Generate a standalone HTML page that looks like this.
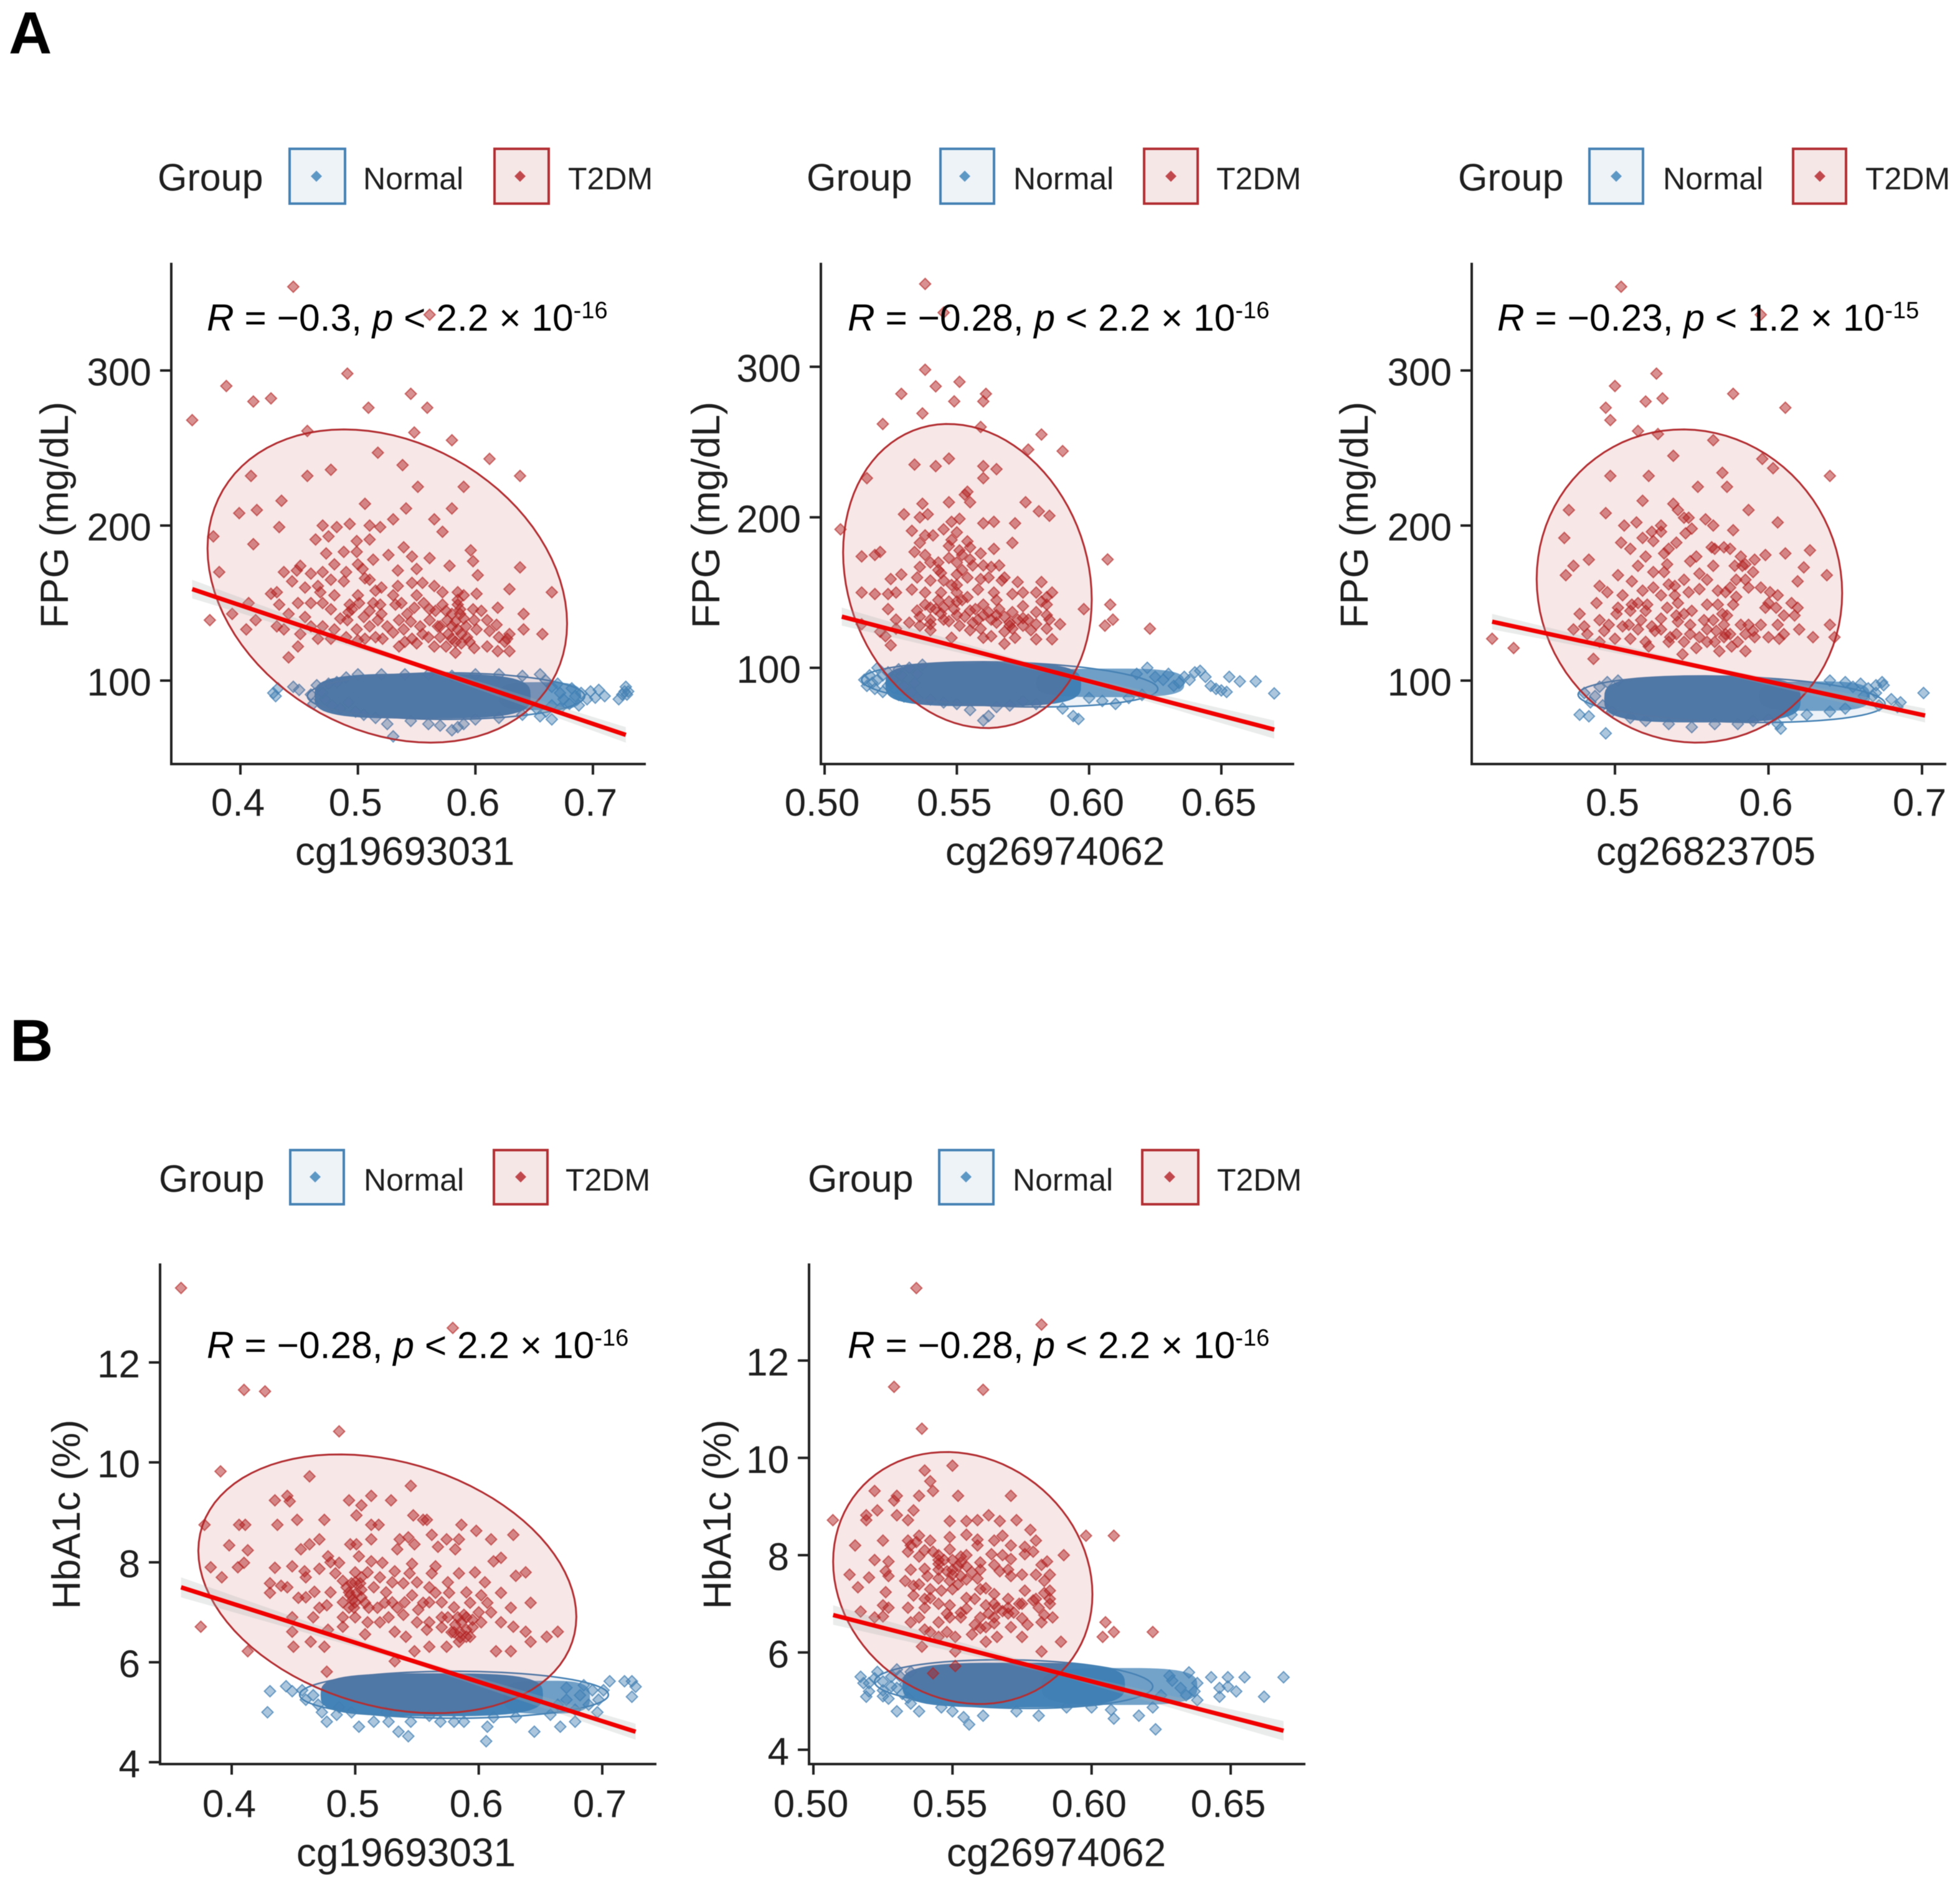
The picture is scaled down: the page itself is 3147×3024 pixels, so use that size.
<!DOCTYPE html>
<html>
<head>
<meta charset="utf-8">
<title>Methylation correlations</title>
<style>
html,body{margin:0;padding:0;background:#fff;}
svg{display:block;filter:blur(.6px);}
text{font-family:"Liberation Sans",sans-serif;fill:#1f1f1f;}
.tick{font-size:62px;}
.title{font-size:64px;}
.ytitle{font-size:63px;}
.grp{font-size:61px;}
.leg{font-size:50px;}
.note{font-size:60.5px;fill:#000;}
.sup{font-size:38px;fill:#000;}
.letter{font-size:96px;font-weight:bold;fill:#000;}
.nbox{fill:#eef3f8;stroke:#4682b4;stroke-width:4;}
.tbox{fill:#f6e7e7;stroke:#b22f33;stroke-width:4;}
.nd{fill:#5d97c4;}
.td{fill:#c0494d;}
</style>
</head>
<body>
<svg xmlns="http://www.w3.org/2000/svg" width="3147" height="3024" viewBox="0 0 3147 3024">
<rect width="3147" height="3024" fill="#fff"/>
<text class="letter" x="14" y="86">A</text>
<text class="letter" x="16" y="1704">B</text>

<!-- A1 -->
<g>
<text class="grp" x="253" y="306">Group</text>
<rect class="nbox" x="465" y="239" width="89" height="88"/>
<path class="nd" d="M508 274l9 9-9 9-9-9z"/>
<text class="leg" x="583" y="304">Normal</text>
<rect class="tbox" x="794" y="239" width="87" height="88"/>
<path class="td" d="M835 274l9 9-9 9-9-9z"/>
<text class="leg" x="912" y="304">T2DM</text>
</g>
<g id="a1-marks"></g>
<g id="a1-axes"></g>
<text class="ytitle" transform="translate(109,827) rotate(-90)" text-anchor="middle">FPG (mg/dL)</text>
<text class="title" x="650" y="1389" text-anchor="middle">cg19693031</text>
<text class="note" x="332" y="531"><tspan font-style="italic">R</tspan> = −0.3, <tspan font-style="italic">p</tspan> &lt; 2.2 × 10<tspan class="sup" dy="-20">-16</tspan></text>

<!-- A2 -->
<g>
<text class="grp" x="1295" y="306">Group</text>
<rect class="nbox" x="1510" y="239" width="86" height="88"/>
<path class="nd" d="M1549 274l9 9-9 9-9-9z"/>
<text class="leg" x="1627" y="304">Normal</text>
<rect class="tbox" x="1837" y="239" width="86" height="88"/>
<path class="td" d="M1880 274l9 9-9 9-9-9z"/>
<text class="leg" x="1953" y="304">T2DM</text>
</g>
<g id="a2-marks"></g>
<g id="a2-axes"></g>
<text class="ytitle" transform="translate(1155,827) rotate(-90)" text-anchor="middle">FPG (mg/dL)</text>
<text class="title" x="1694" y="1389" text-anchor="middle">cg26974062</text>
<text class="note" x="1361" y="531"><tspan font-style="italic">R</tspan> = −0.28, <tspan font-style="italic">p</tspan> &lt; 2.2 × 10<tspan class="sup" dy="-20">-16</tspan></text>

<!-- A3 -->
<g>
<text class="grp" x="2341" y="306">Group</text>
<rect class="nbox" x="2552" y="239" width="86" height="88"/>
<path class="nd" d="M2595 274l9 9-9 9-9-9z"/>
<text class="leg" x="2670" y="304">Normal</text>
<rect class="tbox" x="2879" y="239" width="85" height="88"/>
<path class="td" d="M2922 274l9 9-9 9-9-9z"/>
<text class="leg" x="2995" y="304">T2DM</text>
</g>
<g id="a3-marks"></g>
<g id="a3-axes"></g>
<text class="ytitle" transform="translate(2196,827) rotate(-90)" text-anchor="middle">FPG (mg/dL)</text>
<text class="title" x="2739" y="1389" text-anchor="middle">cg26823705</text>
<text class="note" x="2404" y="531"><tspan font-style="italic">R</tspan> = −0.23, <tspan font-style="italic">p</tspan> &lt; 1.2 × 10<tspan class="sup" dy="-20">-15</tspan></text>

<!-- B1 -->
<g>
<text class="grp" x="255" y="1914">Group</text>
<rect class="nbox" x="466" y="1847" width="86" height="87"/>
<path class="nd" d="M506 1881l9 9-9 9-9-9z"/>
<text class="leg" x="584" y="1912">Normal</text>
<rect class="tbox" x="793" y="1847" width="86" height="87"/>
<path class="td" d="M836 1881l9 9-9 9-9-9z"/>
<text class="leg" x="908" y="1912">T2DM</text>
</g>
<g id="b1-marks"></g>
<g id="b1-axes"></g>
<text class="ytitle" transform="translate(128,2432) rotate(-90)" text-anchor="middle">HbA1c (%)</text>
<text class="title" x="652" y="2997" text-anchor="middle">cg19693031</text>
<text class="note" x="332" y="2181"><tspan font-style="italic">R</tspan> = −0.28, <tspan font-style="italic">p</tspan> &lt; 2.2 × 10<tspan class="sup" dy="-20">-16</tspan></text>

<!-- B2 -->
<g>
<text class="grp" x="1297" y="1914">Group</text>
<rect class="nbox" x="1508" y="1847" width="87" height="87"/>
<path class="nd" d="M1551 1881l9 9-9 9-9-9z"/>
<text class="leg" x="1626" y="1912">Normal</text>
<rect class="tbox" x="1834" y="1847" width="90" height="87"/>
<path class="td" d="M1878 1881l9 9-9 9-9-9z"/>
<text class="leg" x="1954" y="1912">T2DM</text>
</g>
<g id="b2-marks"></g>
<g id="b2-axes"></g>
<text class="ytitle" transform="translate(1173,2432) rotate(-90)" text-anchor="middle">HbA1c (%)</text>
<text class="title" x="1696" y="2997" text-anchor="middle">cg26974062</text>
<text class="note" x="1361" y="2181"><tspan font-style="italic">R</tspan> = −0.28, <tspan font-style="italic">p</tspan> &lt; 2.2 × 10<tspan class="sup" dy="-20">-16</tspan></text>
</svg>

<script>
// ---------- tick data ----------
const fpgTicks=[100,200,300];
const hba1cTicks=[4,6,8,10,12];
const xTicksCg19=[0.4,0.5,0.6,0.7];
const xLabelsCg19=['0.4','0.5','0.6','0.7'];
const xTicksCg26974=[0.5,0.55,0.6,0.65];
const xLabelsCg26974=['0.50','0.55','0.60','0.65'];
const xTicksCg26823=[0.5,0.6,0.7];
const xLabelsCg26823=['0.5','0.6','0.7'];

// ---------- A1: cg19693031 vs FPG ----------
const a1T2dm=[[.445,354],[.561,336],[.491,298],[.388,290],[.411,280],[.426,282],[.545,285],[.359,268],[.509,276],[.559,276],[.457,261],[.548,260],[.58,255],[.517,247],[.612,243],[.538,239],[.409,232],[.457,232],[.477,236],[.638,232],[.551,225],[.59,225],[.435,216],[.506,214],[.399,208],[.414,210],[.541,211],[.58,211],[.433,199],[.411,188],[.377,193],[.382,170],[.47,200],[.464,191],[.475,193],[.482,199],[.493,201],[.51,200],[.519,199],[.53,204],[.565,204],[.572,196],[.488,183],[.499,190],[.51,191],[.499,183],[.526,181],[.539,186],[.546,180],[.561,179],[.596,184],[.598,177],[.602,168],[.578,174],[.638,173],[.473,182],[.48,175],[.513,178],[.534,171],[.437,170],[.451,174],[.448,171],[.444,164],[.46,169],[.504,172],[.506,166],[.466,161],[.477,165],[.488,164],[.534,161],[.546,163],[.555,163],[.565,161],[.572,157],[.585,157],[.601,156],[.629,159],[.665,157],[.431,157],[.426,156],[.433,149],[.449,150],[.46,150],[.468,157],[.477,146],[.493,149],[.501,150],[.513,150],[.519,149],[.532,149],[.548,147],[.561,146],[.572,149],[.585,149],[.587,143],[.598,146],[.619,147],[.641,143],[.641,133],[.657,130],[.629,130],[.627,127],[.629,119],[.619,119],[.61,122],[.599,121],[.583,118],[.588,124],[.61,139],[.618,136],[.599,139],[.601,133],[.585,133],[.576,139],[.561,139],[.568,135],[.577,130],[.555,130],[.546,127],[.539,133],[.535,139],[.521,127],[.517,139],[.506,127],[.499,133],[.491,139],[.495,146],[.477,127],[.466,127],[.451,130],[.449,122],[.441,115],[.455,141],[.441,143],[.431,135],[.437,133],[.413,139],[.405,133],[.393,143],[.374,139],[.407,150],[.585,152],[.587,146],[.59,140],[.583,138],[.588,130],[.58,127],[.593,128],[.492,144],[.505,141],[.51,135],[.5,126],[.53,131],[.545,138],[.553,135],[.54,125],[.56,128],[.57,128],[.575,122],[.55,124],[.47,150],[.48,155],[.485,140],[.5,155],[.515,158],[.52,143],[.525,135],[.53,155],[.537,150],[.542,143],[.55,155],[.556,150],[.566,145],[.57,135],[.575,145],[.58,143],[.59,155],[.592,135],[.595,125],[.605,145],[.612,132],[.62,128],[.625,125],[.47,135],[.48,133],[.46,135],[.49,128],[.51,145],[.515,128],[.535,122],[.565,122],[.58,135],[.583,125],[.52,160],[.49,170],[.51,165],[.5,175],[.47,170],[.455,160],[.55,172]];
const a1Normal=[[.428,92],[.432,95],[.43,90],[.445,96],[.45,94],[.46,91],[.462,85],[.465,97],[.47,92],[.472,88],[.475,98],[.478,84],[.482,99],[.485,82],[.49,102],[.492,86],[.498,80],[.505,78],[.515,76],[.53,64],[.525,72],[.545,74],[.56,72],[.57,71],[.58,68],[.585,70],[.59,72],[.6,75],[.62,76],[.64,78],[.655,77],[.665,75],[.66,100],[.665,96],[.67,98],[.672,92],[.675,88],[.68,85],[.682,95],[.685,90],[.688,84],[.69,92],[.695,88],[.698,93],[.702,89],[.705,94],[.71,90],[.722,88],[.725,91],[.727,93],[.728,96],[.729,91],[.73,93],[.665,84],[.672,82],[.66,80],[.652,82],[.5,104],[.52,104],[.54,104],[.56,104],[.58,103],[.6,104],[.62,104],[.64,103],[.655,104]];
const a1NormalCores=[[.555,90,.092,14.5],[.655,90,.035,9]];
const a1NormalEllipse=[.575,90,.118,15,0];
const a1T2dmEllipse=[.525,161,.153,101,-.24];
const a1FitX=[.359,.728];
const a1FitY=[159,65];
const a1FitSe=[6,1.5,5];

// ---------- A2: cg26974062 vs FPG ----------
const a2T2dm=[[.538,355],[.545,336],[.538,298],[.542,287],[.551,290],[.529,282],[.561,282],[.549,277],[.56,277],[.537,269],[.522,262],[.559,260],[.582,255],[.577,245],[.59,244],[.534,235],[.547,239],[.542,234],[.56,234],[.565,232],[.56,226],[.516,226],[.554,217],[.553,215],[.555,210],[.547,210],[.576,210],[.537,209],[.539,202],[.536,200],[.53,202],[.581,204],[.585,201],[.551,199],[.548,197],[.56,196],[.564,197],[.572,196],[.533,191],[.538,188],[.541,188],[.545,192],[.506,192],[.536,183],[.571,183],[.554,184],[.547,181],[.551,178],[.555,180],[.559,176],[.564,179],[.607,172],[.514,174],[.519,175],[.521,177],[.534,177],[.543,170],[.547,173],[.55,170],[.563,167],[.566,168],[.536,167],[.529,162],[.525,159],[.535,160],[.54,158],[.544,163],[.55,162],[.554,160],[.559,159],[.567,158],[.573,157],[.582,157],[.533,152],[.514,150],[.519,149],[.524,149],[.527,150],[.538,150],[.544,150],[.571,149],[.584,147],[.608,142],[.598,139],[.582,144],[.584,142],[.524,139],[.609,132],[.606,128],[.623,126],[.538,142],[.542,139],[.547,144],[.554,147],[.557,139],[.562,137],[.566,139],[.571,137],[.575,141],[.536,134],[.54,132],[.544,136],[.549,139],[.553,134],[.558,132],[.563,132],[.568,134],[.573,132],[.577,132],[.58,129],[.584,126],[.589,129],[.54,129],[.547,131],[.551,128],[.559,126],[.563,121],[.568,124],[.571,126],[.58,119],[.586,119],[.568,116],[.527,132],[.527,126],[.525,115],[.523,121],[.521,124],[.514,129],[.545,140],[.55,135],[.556,130],[.56,135],[.565,130],[.57,130],[.575,128],[.552,145],[.548,155],[.552,165],[.543,145],[.54,140],[.545,132],[.55,144],[.555,138],[.56,142],[.565,135],[.57,128],[.575,133],[.58,137],[.585,132],[.54,125],[.548,120],[.555,125],[.56,120],[.572,120],[.578,125],[.536,128],[.532,130],[.55,150],[.545,158],[.55,155],[.558,152],[.562,160],[.556,168],[.552,175],[.548,185],[.55,190],[.555,172],[.56,168],[.564,150],[.568,160],[.575,150],[.58,150],[.586,150],[.584,135],[.535,138],[.543,165],[.54,170],[.538,175],[.565,145]];
const a2Normal=[[.515,92],[.516,88],[.518,90],[.517,95],[.519,86],[.52,100],[.522,84],[.524,97],[.525,90],[.527,85],[.529,95],[.53,81],[.532,100],[.535,80],[.54,79],[.545,77],[.55,76],[.555,72],[.56,65],[.562,68],[.565,74],[.57,75],[.575,78],[.58,76],[.59,73],[.594,68],[.596,66],[.6,80],[.605,78],[.61,76],[.615,80],[.62,82],[.618,96],[.622,100],[.625,94],[.628,92],[.63,96],[.632,88],[.634,90],[.636,94],[.638,92],[.64,97],[.642,98],[.644,94],[.646,88],[.648,86],[.65,85],[.652,84],[.653,94],[.657,91],[.663,91],[.67,83],[.52,92],[.522,95],[.524,88],[.526,92],[.528,99],[.53,88],[.533,84],[.535,96],[.537,102],[.528,82],[.534,90]];
const a2NormalCores=[[.56,89,.037,14.5],[.608,90,.028,9.5]];
const a2NormalEllipse=[.57,89,.056,15,-.2];
const a2T2dmEllipse=[.554,161,.047,101,-.155];
const a2FitX=[.5065,.67];
const a2FitY=[134,59];
const a2FitSe=[6,1.5,6];

// ---------- A3: cg26823705 vs FPG ----------
const a3T2dm=[[.504,354],[.595,336],[.527,298],[.5,290],[.577,285],[.531,282],[.52,280],[.494,276],[.611,276],[.497,268],[.515,261],[.528,259],[.564,255],[.538,245],[.596,243],[.603,237],[.57,234],[.497,232],[.522,232],[.64,232],[.554,225],[.573,225],[.518,216],[.538,214],[.541,210],[.47,210],[.494,208],[.548,205],[.559,204],[.564,200],[.506,200],[.514,202],[.606,202],[.587,210],[.577,197],[.467,192],[.53,196],[.524,196],[.518,192],[.546,195],[.504,189],[.525,190],[.54,189],[.627,184],[.611,182],[.598,181],[.591,178],[.582,180],[.571,186],[.563,186],[.553,180],[.549,177],[.532,182],[.534,175],[.483,178],[.473,174],[.468,168],[.623,173],[.578,174],[.583,174],[.564,174],[.515,174],[.525,170],[.532,170],[.638,168],[.502,168],[.555,169],[.59,170],[.579,165],[.511,164],[.539,161],[.619,164],[.49,161],[.555,159],[.587,160],[.495,157],[.518,158],[.53,155],[.539,155],[.548,157],[.567,158],[.572,157],[.579,154],[.601,157],[.606,155],[.488,150],[.502,147],[.511,149],[.521,149],[.534,147],[.541,150],[.56,149],[.567,149],[.577,149],[.598,147],[.619,147],[.477,143],[.49,139],[.501,143],[.509,136],[.517,139],[.524,135],[.53,133],[.541,138],[.549,136],[.558,139],[.564,139],[.571,136],[.582,136],[.587,136],[.595,136],[.606,136],[.61,142],[.617,142],[.64,136],[.473,133],[.482,130],[.493,132],[.51,127],[.522,122],[.544,117],[.553,121],[.568,119],[.576,122],[.585,119],[.571,128],[.549,130],[.526,132],[.585,130],[.591,128],[.607,127],[.62,133],[.629,128],[.643,128],[.486,114],[.434,121],[.42,127],[.566,132],[.572,130],[.56,125],[.545,125],[.536,128],[.515,133],[.505,135],[.496,136],[.54,142],[.573,142],[.52,145],[.51,145],[.515,150],[.52,125],[.53,140],[.535,125],[.54,130],[.545,143],[.55,145],[.555,128],[.56,133],[.565,125],[.57,143],[.575,130],[.58,125],[.59,132],[.6,128],[.61,130],[.5,127],[.49,125],[.48,135],[.505,155],[.525,160],[.535,162],[.545,165],[.56,165],[.575,160],[.585,165],[.595,160],[.605,147],[.615,150],[.565,185],[.575,185],[.585,175],[.535,185],[.52,180],[.51,185],[.55,198],[.53,200],[.545,205],[.6,150]];
const a3Normal=[[.477,78],[.483,77],[.494,66],[.48,92],[.484,86],[.487,90],[.49,96],[.492,84],[.495,99],[.498,80],[.502,100],[.51,76],[.52,74],[.535,72],[.55,70],[.565,72],[.58,72],[.59,74],[.608,69],[.606,72],[.6,75],[.615,78],[.625,78],[.64,80],[.65,82],[.64,100],[.65,99],[.655,96],[.66,98],[.662,90],[.665,95],[.668,90],[.67,92],[.674,99],[.675,97],[.67,97],[.686,86],[.684,83],[.701,92],[.68,88],[.672,84]];
const a3NormalCores=[[.557,88,.064,15],[.63,90,.036,9.5]];
const a3NormalEllipse=[.576,88,.1,15,-.2];
const a3T2dmEllipse=[.5485,161,.0995,101,-.045];
const a3FitX=[.42,.702];
const a3FitY=[138,77.5];
const a3FitSe=[5,1.5,4.5];

// ---------- B1: cg19693031 vs HbA1c ----------
const b1T2dm=[[.359,13.49],[.579,12.69],[.41,11.45],[.427,11.42],[.487,10.62],[.391,9.82],[.463,9.72],[.545,9.53],[.435,9.24],[.445,9.33],[.447,9.22],[.495,9.24],[.505,9.14],[.513,9.33],[.529,9.24],[.501,8.94],[.547,8.94],[.555,8.85],[.558,8.85],[.586,8.75],[.598,8.63],[.628,8.55],[.453,8.85],[.475,8.85],[.378,8.75],[.406,8.75],[.411,8.75],[.437,8.75],[.513,8.75],[.519,8.75],[.398,8.34],[.413,8.24],[.456,8.26],[.463,8.36],[.471,8.46],[.496,8.36],[.501,8.36],[.513,8.46],[.536,8.46],[.543,8.5],[.548,8.36],[.562,8.55],[.574,8.46],[.584,8.46],[.567,8.31],[.581,8.26],[.61,8.46],[.383,7.9],[.405,7.9],[.41,7.99],[.392,7.7],[.435,7.89],[.449,7.92],[.459,7.82],[.471,7.87],[.478,8.12],[.487,7.99],[.503,8.12],[.513,8.02],[.522,7.99],[.534,8.26],[.532,7.82],[.546,7.97],[.544,7.78],[.539,7.58],[.562,7.78],[.565,7.92],[.584,7.78],[.597,7.8],[.612,8.02],[.618,8.09],[.63,7.73],[.638,7.8],[.431,7.58],[.44,7.53],[.431,7.39],[.454,7.29],[.467,7.41],[.484,7.78],[.49,7.63],[.497,7.58],[.504,7.58],[.496,7.34],[.501,7.39],[.508,7.19],[.518,7.09],[.495,7.09],[.499,7.09],[.511,7.09],[.546,7.34],[.555,7.19],[.551,7.05],[.565,7.39],[.576,7.39],[.57,6.9],[.593,7.19],[.602,7.34],[.607,7.19],[.618,7.39],[.626,7.09],[.642,7.19],[.477,7.14],[.471,7.09],[.466,6.9],[.524,7.19],[.527,6.9],[.534,7.09],[.539,6.95],[.583,6.9],[.586,6.8],[.581,6.75],[.59,6.65],[.593,6.51],[.59,6.51],[.584,6.41],[.602,6.8],[.618,6.8],[.628,6.71],[.638,6.61],[.642,6.41],[.655,6.51],[.664,6.61],[.449,6.9],[.449,6.61],[.45,6.31],[.464,6.41],[.475,6.31],[.478,6.65],[.49,6.71],[.508,6.56],[.532,6.61],[.541,6.51],[.558,6.65],[.548,6.22],[.56,6.31],[.574,6.31],[.532,6.02],[.477,5.81],[.413,6.22],[.375,6.71],[.614,6.22],[.626,6.22],[.493,7.5],[.5,7.6],[.505,7.45],[.498,7.25],[.588,6.95],[.585,6.6],[.595,6.85],[.578,6.6],[.48,7.4],[.49,7.2],[.505,7.3],[.515,7.5],[.525,7.4],[.53,7.2],[.54,7.2],[.56,7.2],[.57,7.2],[.58,7.1],[.59,6.9],[.6,7],[.61,7],[.585,6.5],[.595,6.7],[.58,6.6],[.57,6.7],[.55,6.8],[.56,6.8],[.52,6.8],[.51,6.8],[.5,6.9],[.46,7.3],[.445,7.5],[.46,7.7],[.48,8],[.51,7.8],[.52,7.7],[.53,7.6],[.55,7.6],[.56,7.5],[.575,7.6],[.59,7.4],[.605,7.6],[.5,7.8],[.505,7.7],[.495,7.4],[.5,7.2],[.49,6.9],[.575,6.9]];
const b1Normal=[[.429,5],[.431,5.42],[.444,5.52],[.449,5.42],[.457,5.44],[.46,5.25],[.466,5.34],[.47,5.15],[.473,5],[.477,4.81],[.485,4.95],[.487,5.1],[.503,4.71],[.515,4.81],[.527,4.81],[.535,4.61],[.543,4.52],[.545,4.81],[.569,4.81],[.58,4.81],[.588,4.81],[.607,4.71],[.606,4.42],[.645,4.61],[.666,4.71],[.678,4.81],[.658,4.95],[.63,4.9],[.612,4.9],[.56,4.93],[.525,5],[.497,5],[.706,5.62],[.718,5.62],[.724,5.62],[.727,5.51],[.724,5.31],[.696,5],[.685,5.54],[.692,5.44],[.697,5.25],[.689,5.15],[.678,5.05],[.682,5.34],[.671,5.49],[.664,5.15],[.671,5.25],[.701,5.44]];
const b1NormalCores=[[.562,5.35,.09,.43],[.655,5.3,.035,.33]];
const b1NormalEllipse=[.58,5.35,.125,.47,0];
const b1T2dmEllipse=[.526,7.57,.153,2.59,-.255];
const b1FitX=[.359,.727];
const b1FitY=[7.5,4.61];
const b1FitSe=[.2,.05,.16];

// ---------- B2: cg26974062 vs HbA1c ----------
const b2T2dm=[[.537,13.49],[.582,12.74],[.529,11.46],[.561,11.4],[.539,10.6],[.55,9.84],[.54,9.74],[.542,9.52],[.543,9.32],[.522,9.32],[.53,9.22],[.529,9.12],[.538,9.22],[.552,9.22],[.571,9.22],[.523,8.92],[.519,8.82],[.519,8.72],[.53,8.82],[.536,8.92],[.534,8.72],[.507,8.72],[.549,8.7],[.563,8.82],[.559,8.72],[.567,8.7],[.573,8.72],[.578,8.52],[.598,8.4],[.608,8.4],[.568,8.4],[.525,8.3],[.515,8.2],[.534,8.3],[.537,8.27],[.542,8.3],[.549,8.37],[.555,8.42],[.559,8.32],[.571,8.2],[.576,8.17],[.559,8.2],[.59,8],[.522,7.9],[.527,7.87],[.526,7.67],[.527,7.57],[.513,7.6],[.52,7.54],[.516,7.34],[.534,8.07],[.538,7.97],[.543,8.07],[.549,8.12],[.553,7.97],[.564,8.02],[.568,8],[.571,7.92],[.576,8.02],[.579,8.07],[.582,7.8],[.584,7.87],[.54,7.72],[.545,7.82],[.548,7.67],[.552,7.77],[.555,7.77],[.553,7.57],[.541,7.57],[.545,7.52],[.549,7.47],[.559,7.52],[.562,7.32],[.567,7.67],[.571,7.57],[.576,7.27],[.583,7.47],[.585,7.27],[.583,7.22],[.533,7.47],[.536,7.37],[.536,7.17],[.542,7.12],[.546,7.27],[.555,7.12],[.549,6.97],[.534,6.92],[.54,6.92],[.526,7.24],[.525,6.97],[.527,6.92],[.562,6.97],[.566,6.92],[.57,6.92],[.572,6.82],[.579,7.07],[.581,6.92],[.583,6.77],[.586,6.72],[.56,6.72],[.558,6.57],[.565,6.72],[.553,6.72],[.562,6.52],[.571,6.52],[.577,6.57],[.582,6.62],[.517,6.84],[.522,6.72],[.525,6.74],[.535,6.62],[.538,6.72],[.545,6.62],[.549,6.72],[.553,6.82],[.542,6.42],[.548,6.42],[.551,6.32],[.54,6.47],[.545,6.32],[.557,6.37],[.562,6.22],[.566,6.32],[.575,6.32],[.582,6.02],[.589,6.22],[.605,6.62],[.604,6.32],[.608,6.42],[.622,6.42],[.539,6.12],[.551,6.02],[.551,5.72],[.543,5.57],[.55,7.6],[.557,7.65],[.553,7.85],[.547,7.9],[.56,7.85],[.565,7],[.568,6.85],[.574,7],[.542,7.3],[.535,8.2],[.54,8.1],[.545,8],[.55,7.9],[.555,8],[.56,7.7],[.565,7.8],[.57,7.7],[.575,7.6],[.58,7.6],[.585,7.6],[.545,7.7],[.55,7.7],[.555,7.5],[.56,7.3],[.565,7.2],[.57,7.1],[.575,7],[.58,7.1],[.585,7],[.55,7.3],[.545,7],[.54,7.1],[.535,7.7],[.538,7.4],[.548,6.8],[.555,6.9],[.56,6.5],[.565,6.6],[.57,6.8],[.545,7.9],[.552,7.4],[.558,7.1],[.563,6.8],[.538,8.4],[.555,8.7],[.565,8.3],[.58,8.3],[.585,7.1],[.575,6.7]];
const b2Normal=[[.517,5.5],[.518,5.37],[.52,5.37],[.519,5.09],[.522,5.47],[.525,5.22],[.53,5.27],[.531,5.52],[.53,4.79],[.538,4.79],[.534,5.07],[.546,4.87],[.55,4.79],[.554,4.67],[.556,4.52],[.561,4.7],[.573,4.79],[.581,4.7],[.591,4.87],[.608,4.64],[.617,4.7],[.622,4.87],[.623,4.42],[.6,4.87],[.607,4.82],[.635,5.59],[.643,5.49],[.649,5.49],[.655,5.49],[.669,5.49],[.662,5.09],[.652,5.2],[.646,5.09],[.646,5.27],[.638,5.37],[.638,5.02],[.637,5.2],[.632,5.27],[.628,5.52],[.625,5.12],[.629,5.42],[.634,5.12],[.649,5.3],[.52,5.2],[.523,5.6],[.525,5.4],[.527,5.05],[.528,5.5],[.532,5.15],[.535,5.6],[.535,4.95],[.528,5.3],[.525,5.1],[.53,5.65],[.533,5.35]];
const b2NormalCores=[[.572,5.33,.04,.46],[.61,5.3,.028,.38]];
const b2NormalEllipse=[.572,5.35,.05,.5,-.1];
const b2T2dmEllipse=[.5537,7.53,.0466,2.59,-.13];
const b2FitX=[.5071,.669];
const b2FitY=[6.77,4.39];
const b2FitSe=[.2,.05,.2];

// ---------- drawing ----------
const NS='http://www.w3.org/2000/svg';
function make(tag,parent){const el=document.createElementNS(NS,tag);parent.appendChild(el);return el;}
function linear(v0,p0,v1,p1){return v=>p0+(v-v0)*(p1-p0)/(v1-v0);}

function ellipsePath(sx,sy,e){
  const acos=Math.acos(e[4]);let d='';
  for(let i=0;i<=90;i++){const t=i/90*2*Math.PI;
    d+=(i?'L':'M')+sx(e[0]+e[2]*Math.cos(t)).toFixed(1)+' '+sy(e[1]+e[3]*Math.cos(t+acos)).toFixed(1);}
  return d+'Z';
}
function corePath(sx,sy,c){
  let d='';
  for(let i=0;i<=60;i++){const t=i/60*2*Math.PI,a=Math.cos(t),b=Math.sin(t);
    const u=Math.sign(a)*Math.pow(Math.abs(a),.6),w=Math.sign(b)*Math.pow(Math.abs(b),.6);
    d+=(i?'L':'M')+sx(c[0]+c[2]*u).toFixed(1)+' '+sy(c[1]+c[3]*w).toFixed(1);}
  return d+'Z';
}
function diamond(px,py,r){return 'M'+px.toFixed(1)+' '+(py-r).toFixed(1)+'l'+r+' '+r+'l'+(-r)+' '+r+'l'+(-r)+' '+(-r)+'z';}

function drawPanel(p){
  const sx=p.sx,sy=p.sy,marks=document.getElementById(p.id+'-marks'),axes=document.getElementById(p.id+'-axes');
  p.normal.forEach(d=>{
    const el=make('path',marks);
    
    
    el.setAttribute('d',diamond(sx(d[0]),sy(d[1]),9));
    el.setAttribute('fill','rgba(70,130,180,.45)');
    el.setAttribute('stroke','rgba(70,130,180,.75)');
    el.setAttribute('stroke-width','2');
  });
  p.cores.forEach((c,i)=>{
    const el=make('path',marks);
    
    
    el.setAttribute('d',corePath(sx,sy,c));
    el.setAttribute('fill','#3f80b6');
    el.setAttribute('fill-opacity',i===0?'.97':'.72');
  });
  const ne=make('path',marks);
  
  
  ne.setAttribute('d',ellipsePath(sx,sy,p.normalEllipse));
  ne.setAttribute('fill','rgba(70,130,180,.1)');
  ne.setAttribute('stroke','#4682b4');
  ne.setAttribute('stroke-width','2.5');
  const te=make('path',marks);
  
  
  te.setAttribute('d',ellipsePath(sx,sy,p.t2dmEllipse));
  te.setAttribute('fill','rgba(178,34,34,.11)');
  te.setAttribute('stroke','#b22f33');
  te.setAttribute('stroke-width','3');
  p.t2dm.forEach(d=>{
    const el=make('path',marks);
    
    
    el.setAttribute('d',diamond(sx(d[0]),sy(d[1]),9));
    el.setAttribute('fill','rgba(178,34,34,.5)');
    el.setAttribute('stroke','rgba(178,34,34,.6)');
    el.setAttribute('stroke-width','2');
  });
  const xm=(p.fitX[0]+p.fitX[1])/2,ym=(p.fitY[0]+p.fitY[1])/2;
  const band=make('polygon',marks);
  
  
  band.setAttribute('points',[
    [p.fitX[0],p.fitY[0]+p.fitSe[0]],[xm,ym+p.fitSe[1]],[p.fitX[1],p.fitY[1]+p.fitSe[2]],
    [p.fitX[1],p.fitY[1]-p.fitSe[2]],[xm,ym-p.fitSe[1]],[p.fitX[0],p.fitY[0]-p.fitSe[0]]
  ].map(q=>sx(q[0]).toFixed(1)+','+sy(q[1]).toFixed(1)).join(' '));
  band.setAttribute('fill','rgba(170,175,175,.25)');
  const fit=make('line',marks);
  
  
  fit.setAttribute('x1',sx(p.fitX[0]));
  fit.setAttribute('y1',sy(p.fitY[0]));
  fit.setAttribute('x2',sx(p.fitX[1]));
  fit.setAttribute('y2',sy(p.fitY[1]));
  fit.setAttribute('stroke','#f00000');
  fit.setAttribute('stroke-width','7');

  const yAxis=make('line',axes);
  
  
  yAxis.setAttribute('x1',p.left);yAxis.setAttribute('x2',p.left);
  yAxis.setAttribute('y1',p.top);yAxis.setAttribute('y2',p.bottom+2);
  yAxis.setAttribute('stroke','#222');yAxis.setAttribute('stroke-width','4');
  const xAxis=make('line',axes);
  
  
  xAxis.setAttribute('x1',p.left-2);xAxis.setAttribute('x2',p.right);
  xAxis.setAttribute('y1',p.bottom);xAxis.setAttribute('y2',p.bottom);
  xAxis.setAttribute('stroke','#222');xAxis.setAttribute('stroke-width','4');
  p.xTicks.forEach((v,i)=>{
    const t=make('line',axes);
    
    
    t.setAttribute('x1',sx(v));t.setAttribute('x2',sx(v));
    t.setAttribute('y1',p.bottom);t.setAttribute('y2',p.bottom+17);
    t.setAttribute('stroke','#222');t.setAttribute('stroke-width','4');
    const l=make('text',axes);
    
    
    l.setAttribute('class','tick');
    l.setAttribute('x',sx(v)-4);l.setAttribute('y',p.xLabelY);
    l.setAttribute('text-anchor','middle');
    l.textContent=p.xLabels[i];
  });
  p.yTicks.forEach(v=>{
    const t=make('line',axes);
    
    
    t.setAttribute('x1',p.left-18);t.setAttribute('x2',p.left);
    t.setAttribute('y1',sy(v));t.setAttribute('y2',sy(v));
    t.setAttribute('stroke','#222');t.setAttribute('stroke-width','4');
    const l=make('text',axes);
    
    
    l.setAttribute('class','tick');
    l.setAttribute('x',p.left-32);l.setAttribute('y',sy(v)+24);
    l.setAttribute('text-anchor','end');
    l.textContent=String(v);
  });
}

drawPanel({id:'a1',sx:linear(.4,386,.7,952),sy:linear(100,1093,300,595),t2dm:a1T2dm,normal:a1Normal,cores:a1NormalCores,normalEllipse:a1NormalEllipse,t2dmEllipse:a1T2dmEllipse,fitX:a1FitX,fitY:a1FitY,fitSe:a1FitSe,left:275,top:422,bottom:1227,right:1037,xLabelY:1310,xTicks:xTicksCg19,xLabels:xLabelsCg19,yTicks:fpgTicks});
drawPanel({id:'a2',sx:linear(.5,1324,.65,1961),sy:linear(100,1072.5,300,589),t2dm:a2T2dm,normal:a2Normal,cores:a2NormalCores,normalEllipse:a2NormalEllipse,t2dmEllipse:a2T2dmEllipse,fitX:a2FitX,fitY:a2FitY,fitSe:a2FitSe,left:1318,top:422,bottom:1227,right:2078,xLabelY:1310,xTicks:xTicksCg26974,xLabels:xLabelsCg26974,yTicks:fpgTicks});
drawPanel({id:'a3',sx:linear(.5,2593,.7,3086),sy:linear(100,1093,300,595),t2dm:a3T2dm,normal:a3Normal,cores:a3NormalCores,normalEllipse:a3NormalEllipse,t2dmEllipse:a3T2dmEllipse,fitX:a3FitX,fitY:a3FitY,fitSe:a3FitSe,left:2363,top:422,bottom:1227,right:3125,xLabelY:1310,xTicks:xTicksCg26823,xLabels:xLabelsCg26823,yTicks:fpgTicks});
drawPanel({id:'b1',sx:linear(.4,372,.7,967),sy:linear(4,2830,12,2188),t2dm:b1T2dm,normal:b1Normal,cores:b1NormalCores,normalEllipse:b1NormalEllipse,t2dmEllipse:b1T2dmEllipse,fitX:b1FitX,fitY:b1FitY,fitSe:b1FitSe,left:257,top:2029,bottom:2833,right:1054,xLabelY:2918,xTicks:xTicksCg19,xLabels:xLabelsCg19,yTicks:hba1cTicks});
drawPanel({id:'b2',sx:linear(.5,1306,.65,1976),sy:linear(4,2810,12,2185),t2dm:b2T2dm,normal:b2Normal,cores:b2NormalCores,normalEllipse:b2NormalEllipse,t2dmEllipse:b2T2dmEllipse,fitX:b2FitX,fitY:b2FitY,fitSe:b2FitSe,left:1299,top:2029,bottom:2833,right:2096,xLabelY:2918,xTicks:xTicksCg26974,xLabels:xLabelsCg26974,yTicks:hba1cTicks});
</script>
</body>
</html>
